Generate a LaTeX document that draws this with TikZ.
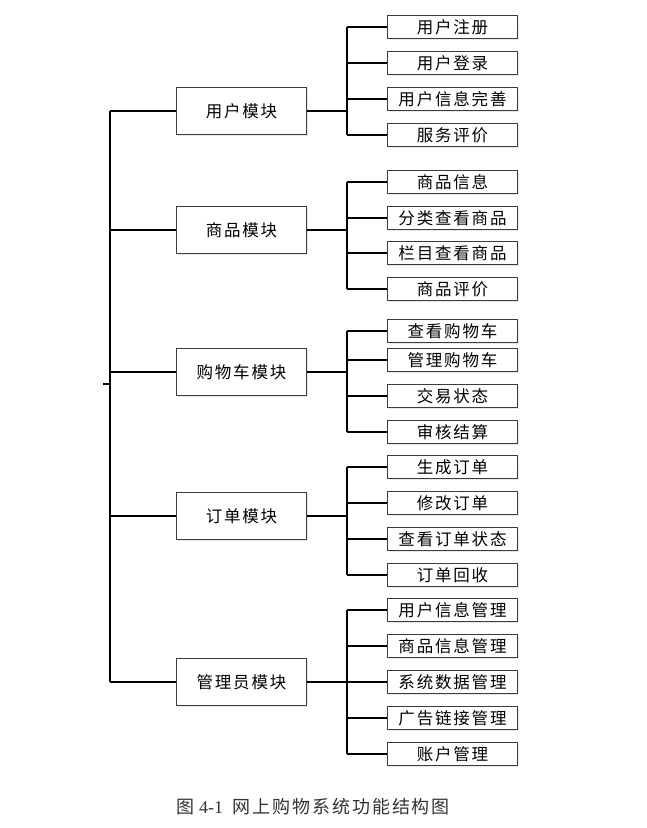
\documentclass[tikz,border=0pt]{standalone}
\usepackage{fontspec}
\setmainfont{Liberation Serif}
\newfontfamily\cjk[LetterSpace=11]{Noto Sans CJK SC}
\newfontfamily\cjkcap[LetterSpace=11]{Noto Sans CJK SC}
\usetikzlibrary{shadows}
\definecolor{boxline}{HTML}{3C3C3C}
\definecolor{captext}{HTML}{333333}
\tikzset{
  every picture/.style={x=1pt,y=-1pt},
  modbox/.style={draw=boxline, line width=1.4pt, fill=white, minimum width=130pt, minimum height=47pt, inner sep=0pt,
     font=\fontsize{16.5}{18}\cjk, drop shadow={shadow xshift=1.2pt, shadow yshift=-1.2pt, opacity=0.18}},
  leafbox/.style={draw=boxline, line width=1.4pt, fill=white, minimum width=130pt, minimum height=23pt, inner sep=0pt,
     font=\fontsize{16.5}{18}\cjk, drop shadow={shadow xshift=1.2pt, shadow yshift=-1.2pt, opacity=0.18}},
  trunk/.style={line width=2pt, black},
  twig/.style={line width=2pt, black},
}
\begin{document}
\begin{tikzpicture}
\useasboundingbox (0,0) rectangle (647,828);
\fill[white] (0,0) rectangle (647,828);

% module boxes
\node[modbox] (m1) at (241.5,111) {用户模块};
\node[modbox] (m2) at (241.5,230) {商品模块};
\node[modbox] (m3) at (241.5,372) {购物车模块};
\node[modbox] (m4) at (241.5,516) {订单模块};
\node[modbox] (m5) at (241.5,682) {管理员模块};

% leaf boxes
\node[leafbox] (a1) at (452.5,27) {用户注册};
\node[leafbox] (a2) at (452.5,63) {用户登录};
\node[leafbox] (a3) at (452.5,99) {用户信息完善};
\node[leafbox] (a4) at (452.5,135) {服务评价};

\node[leafbox] (b1) at (452.5,182) {商品信息};
\node[leafbox] (b2) at (452.5,218) {分类查看商品};
\node[leafbox] (b3) at (452.5,253) {栏目查看商品};
\node[leafbox] (b4) at (452.5,289) {商品评价};

\node[leafbox] (c1) at (452.5,331) {查看购物车};
\node[leafbox] (c2) at (452.5,360) {管理购物车};
\node[leafbox] (c3) at (452.5,396) {交易状态};
\node[leafbox] (c4) at (452.5,432) {审核结算};

\node[leafbox] (d1) at (452.5,467) {生成订单};
\node[leafbox] (d2) at (452.5,503) {修改订单};
\node[leafbox] (d3) at (452.5,539) {查看订单状态};
\node[leafbox] (d4) at (452.5,575) {订单回收};

\node[leafbox] (e1) at (452.5,610) {用户信息管理};
\node[leafbox] (e2) at (452.5,646) {商品信息管理};
\node[leafbox] (e3) at (452.5,682) {系统数据管理};
\node[leafbox] (e4) at (452.5,718) {广告链接管理};
\node[leafbox] (e5) at (452.5,754) {账户管理};

% trunk
\coordinate (t1) at (110,111);
\coordinate (t5) at (110,682);
\coordinate (root) at (103,384);
\coordinate (rootj) at (110,384);
\draw[trunk] (t1) -- (t5);
\draw[trunk] (root) -- (rootj);
\foreach \m in {m1,m2,m3,m4,m5}{
  \draw[trunk] (\m.west -| t1) -- (\m.west);
}

% module -> bus
\foreach \m/\first/\last/\list in {m1/a1/a4/{a1,a2,a3,a4}, m2/b1/b4/{b1,b2,b3,b4}, m3/c1/c4/{c1,c2,c3,c4}, m4/d1/d4/{d1,d2,d3,d4}, m5/e1/e5/{e1,e2,e3,e4,e5}}{
  \coordinate (bus\m) at (347,0);
  \draw[trunk] (\m.east) -- (\m.east -| bus\m);
  \draw[twig] (\first.west -| bus\m) -- (\last.west -| bus\m);
  \foreach \l in \list {
    \draw[twig] (\l.west -| bus\m) -- (\l.west);
  }
}

% caption
\node[font=\fontsize{18}{20}\selectfont, text=captext, anchor=west, inner sep=0pt] (cap) at (176,807)
  {{\cjkcap 图}\hspace{5pt}4-1\hspace{9pt}{\cjkcap 网上购物系统功能结构图}};
\end{tikzpicture}
\end{document}
